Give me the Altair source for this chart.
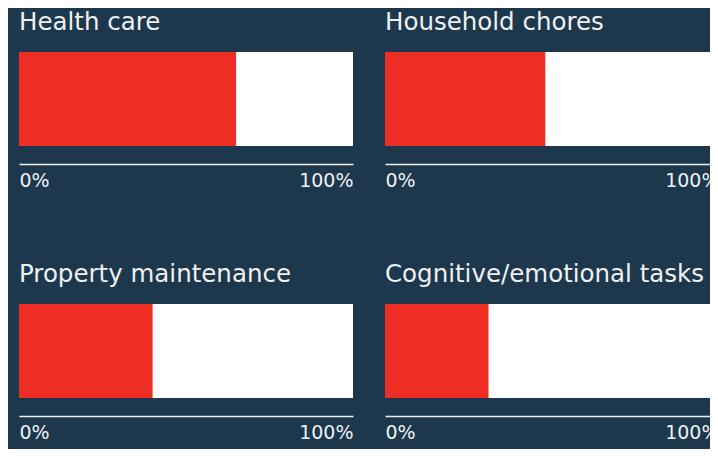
import altair as alt
import pandas as pd

categories = ["Health care", "Household chores", "Property maintenance", "Cognitive/emotional tasks"]
shares = [65, 48, 40, 31]
full = [100, 100, 100, 100]
tick_values = [0, 100]

df = pd.DataFrame({"category": categories, "share": shares, "full": full})

BG = "#1d374c"
RED = "#ee2e24"
TXT = "#eef1f3"
FONT = "DejaVu Sans"

x_scale = alt.Scale(domain=[0, 100], nice=False, zero=True)
y_enc = alt.Y("category:N", axis=None, scale=alt.Scale(paddingInner=0, paddingOuter=0))

back = alt.Chart().mark_bar(color="white", opacity=1).encode(
    x=alt.X("full:Q", scale=x_scale,
            axis=alt.Axis(values=tick_values, labelExpr="datum.value + '%'", labelFlush=True,
                          ticks=False, grid=False, title=None, offset=18,
                          domainColor=TXT, domainWidth=1.5, labelColor=TXT,
                          labelFontSize=19, labelFont=FONT, labelPadding=7)),
    y=y_enc,
)
front = alt.Chart().mark_bar(color=RED, opacity=1).encode(
    x=alt.X("share:Q", scale=x_scale),
    y=y_enc,
)

chart = alt.layer(back, front, data=df).properties(width=334, height=94).facet(
    facet=alt.Facet("category:N", sort=categories,
                    header=alt.Header(title=None, labelFontSize=24.5, labelFont=FONT,
                                      labelColor=TXT, labelAnchor="start", labelOrient="top",
                                      labelPadding=17)),
    columns=2,
    spacing={"row": 71, "column": 32},
).resolve_scale(y="independent", x="independent").resolve_axis(x="independent").configure(
    background=BG,
    autosize=alt.AutoSizeParams(type="none"),
    padding={"left": 11, "top": 44, "right": 691, "bottom": 397},
).configure_view(stroke=None)

chart.save("out.html", embed_options={"renderer": "svg", "actions": False})
